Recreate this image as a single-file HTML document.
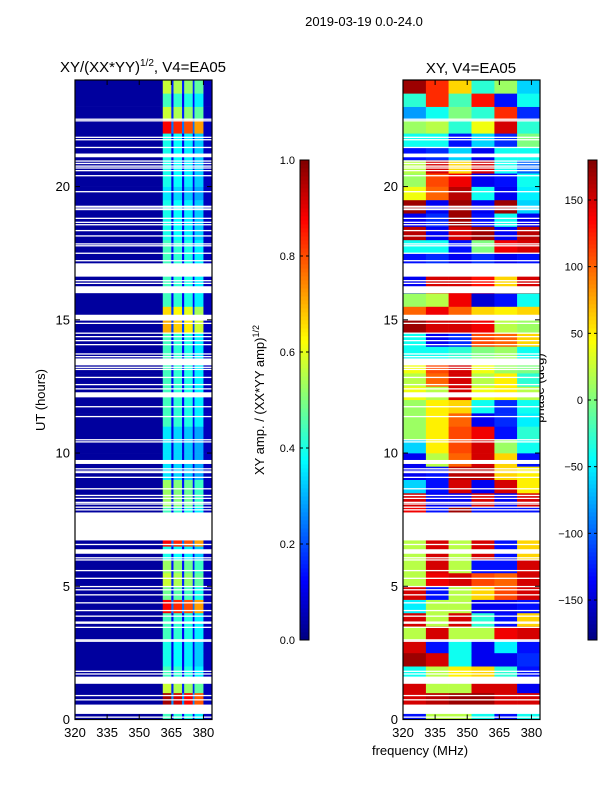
<!DOCTYPE html>
<html><head><meta charset="utf-8">
<style>
html,body{margin:0;padding:0;background:#fff;}
svg text{font-family:"Liberation Sans",sans-serif;fill:#000;}
</style></head>
<body>
<svg id="fig" width="600" height="800" viewBox="0 0 600 800" xmlns="http://www.w3.org/2000/svg">
<text x="364" y="26" font-size="13" text-anchor="middle">2019-03-19 0.0-24.0</text>
<text x="143" y="72" font-size="15" text-anchor="middle">XY/(XX*YY)<tspan font-size="10" dy="-6">1/2</tspan><tspan dy="6">, V4=EA05</tspan></text>
<text x="471" y="73" font-size="15" text-anchor="middle">XY, V4=EA05</text>
<text x="45" y="400" font-size="13" text-anchor="middle" transform="rotate(-90 45 400)">UT (hours)</text>
<text x="264" y="400" font-size="13" text-anchor="middle" transform="rotate(-90 264 400)">XY amp. / (XX*YY amp)<tspan font-size="9" dy="-5">1/2</tspan></text>
<text x="544" y="388" font-size="13" text-anchor="middle" transform="rotate(-90 544 388)">phase (deg)</text>
<text x="420" y="755" font-size="13" text-anchor="middle">frequency (MHz)</text>
<g id="left"></g>
<g id="right"></g>
<g id="cb1"></g>
<g id="cb2"></g>
</svg>
<script>
// ---- data ----
const hourTicks = [0,5,10,15,20];
const freqTicks = [320,335,350,365,380];
const ampTicks = ["0.0","0.2","0.4","0.6","0.8","1.0"];
const ampTickValues = [0,0.2,0.4,0.6,0.8,1.0];
const phaseTicks = [-150,-100,-50,0,50,100,150];
// amplitude spectral segments [fStart, fEnd, amp]
const ampSegments = [[320,361,0.03],[361,365,0.44],[365,366,0.12],[366,370,0.42],[370,371,0.12],[371,375,0.4],[375,375.8,0.12],[375.8,380,0.36],[380,384,0.06]];
// per half-hour row amplitude factor (0h -> 24h)
const ampRowFactor = [1.0,2.2,1.3,1.0,0.9,0.9,1.0,1.0,2.0,1.1,1.3,1.2,0.9,2.0,1.0,1.0,1.2,1.2,0.8,0.8,0.8,0.8,1.0,1.0,
                      1.0,1.0,1.0,1.0,1.0,1.6,1.5,1.0,1.0,1.0,1.0,1.0,0.9,0.9,0.9,0.8,0.9,0.9,0.9,0.9,2.0,1.3,1.0,1.3];
const ampRowFactorTop = [1.2,0.9];
// phase bins per half hour (6 frequency bins), 0h -> 24h
const phaseBins = [320,330.7,341.3,352,362.7,373.3,384];
const phaseRows = [
[-130,20,20,-40,-130,-40],[150,160,170,170,150,150],[150,20,20,150,150,-140],[-40,20,50,60,-30,-130],
[170,150,-40,-140,-140,-120],[150,-130,-40,-140,-50,-130],[20,150,20,20,140,150],[150,20,150,-30,-130,60],
[-50,20,20,-140,-140,-130],[150,-130,20,60,110,150],[20,140,150,110,100,150],[20,150,20,-130,-130,150],
[20,150,20,150,-130,60],[20,150,20,150,-130,60],[140,-130,170,-130,-130,-130],[140,-130,170,-130,-130,-130],
[150,-140,-140,150,-140,150],[-60,-130,150,-140,150,50],[-140,-130,160,160,60,50],[-140,20,100,150,60,-130],
[-60,50,110,150,10,-40],[10,50,110,140,-130,-30],[10,50,100,-140,-120,-50],[10,50,60,-40,-120,-40],
[40,20,150,40,50,20],[20,100,150,20,50,-30],[40,110,150,40,10,0],[-40,-40,-30,0,10,-40],
[-40,-140,-120,110,100,60],[170,150,150,140,20,10],[100,140,100,60,50,60],[10,20,140,-150,-130,-40],
[-140,150,150,130,60,150],[-140,150,150,130,60,150],[-130,-120,-140,-120,-140,-130],[-40,-40,-130,0,140,150],
[160,-140,150,170,-140,160],[-140,-120,170,-130,-40,-140],[170,-140,170,-140,170,-60],[40,100,160,-40,-140,-50],
[10,110,140,-140,-130,-40],[20,150,60,150,-40,-100],[-130,-120,-60,-140,-40,-40],[-40,-40,-130,-60,-120,0],
[10,20,-30,40,150,-30],[-80,-40,0,-30,120,-120],[-30,120,-20,130,-130,-40],[170,120,60,-30,10,-60]];
// thin gaps (hours) and wide gaps [start,end] (hours)
const thinGaps = [22.53,22.47,21.85,21.76,21.47,20.96,20.87,20.77,20.70,20.60,20.41,19.81,19.26,19.20,19.14,18.81,18.66,18.57,18.35,18.15,17.85,17.78,17.50,17.22,16.47,16.37,14.87,14.50,14.37,14.22,14.07,13.72,13.62,13.22,13.14,12.84,12.57,12.41,11.74,11.37,10.50,10.42,9.41,9.32,9.27,9.09,8.66,8.41,8.30,8.15,8.09,7.97,7.87,6.57,6.07,5.99,5.59,5.30,4.99,4.87,4.68,4.38,4.09,3.88,3.46,2.99,2.94,1.81,1.71,0.90,0.74,0.09];
const wideGaps = [[21.10,21.24],[16.62,17.12],[16.00,16.26],[14.97,15.19],[13.29,13.55],[12.09,12.28],[9.59,9.74],[6.72,7.77],[6.22,6.39],[3.59,3.68],[1.34,1.61],[0.21,0.56]];

// ---- helpers ----
const NS="http://www.w3.org/2000/svg";
function mk(tag,attrs,parent){const e=document.createElementNS(NS,tag);for(const k in attrs)e.setAttribute(k,attrs[k]);parent.appendChild(e);return e;}
function cl(v){return Math.max(0,Math.min(1,v));}
function jet(v){v=cl(v);const r=cl(1.5-Math.abs(4*v-3)),g=cl(1.5-Math.abs(4*v-2)),b=cl(1.5-Math.abs(4*v-1));
 return `rgb(${Math.round(r*255)},${Math.round(g*255)},${Math.round(b*255)})`;}
const Y0=719.5, Y1=80, H0=0, H1=24;
function yS(h){return Y0-(h-H0)/(H1-H0)*(Y0-Y1);}
function makeX(x0){return f=>x0+(f-320)*(137/64);}

function drawPanel(g,x0,fillFn){
 const xS=makeX(x0);
 fillFn(g,xS);
 for(const h of thinGaps){const r=mk('rect',{x:x0,y:yS(h)-0.6,width:137,height:1.3,fill:'#fff'},g);
  
  }
 for(const w of wideGaps){const r=mk('rect',{x:x0,y:yS(w[1]),width:137,height:yS(w[0])-yS(w[1]),fill:'#fff'},g);
  
  }
 const fr=mk('rect',{x:x0,y:Y1,width:137,height:Y0-Y1,fill:'none',stroke:'#000','stroke-width':1.2},g);
 
 
 for(const h of hourTicks){const y=yS(h);
  mk('line',{x1:x0,x2:x0+5,y1:y,y2:y,stroke:'#000'},g);mk('line',{x1:x0+137,x2:x0+132,y1:y,y2:y,stroke:'#000'},g);
  const t=mk('text',{x:x0-5,y:y+4.5,'font-size':13,'text-anchor':'end'},g);t.textContent=h;
  
  }
 for(const f of freqTicks){const x=xS(f);
  mk('line',{x1:x,x2:x,y1:Y0,y2:Y0-5,stroke:'#000'},g);mk('line',{x1:x,x2:x,y1:Y1,y2:Y1+5,stroke:'#000'},g);
  const t=mk('text',{x:x,y:737,'font-size':13,'text-anchor':'middle'},g);t.textContent=f;
  
  }
}

drawPanel(document.getElementById('left'),75,(g,xS)=>{
 const rows=ampRowFactor.length;
 for(let i=0;i<rows;i++){const hA=i*0.5,hB=hA+0.5;
  for(const s of ampSegments){
   const v=s[2]>0.1?s[2]*ampRowFactor[i]:s[2];
   const r=mk('rect',{x:xS(s[0]),y:yS(hB),width:xS(s[1])-xS(s[0])+0.3,height:yS(hA)-yS(hB)+0.3,fill:jet(v)},g);
   
   }}
});
drawPanel(document.getElementById('right'),403,(g,xS)=>{
 for(let i=0;i<phaseRows.length;i++){const hA=i*0.5,hB=hA+0.5;
  for(let j=0;j<6;j++){
   const r=mk('rect',{x:xS(phaseBins[j]),y:yS(hB),width:xS(phaseBins[j+1])-xS(phaseBins[j])+0.3,height:yS(hA)-yS(hB)+0.3,fill:jet((phaseRows[i][j]+180)/360)},g);
   
   }}
});

function colorbar(g,x0,vmin,vmax,ticks,labels){
 const top=160,bot=640,w=9,n=120;
 const yv=v=>bot-(v-vmin)/(vmax-vmin)*(bot-top);
 for(let k=0;k<n;k++){const v=vmin+(k+0.5)/n*(vmax-vmin);
  const y=bot-(k+1)/n*(bot-top);
  const r=mk('rect',{x:x0,y:y,width:w,height:(bot-top)/n+0.4,fill:jet((v-vmin)/(vmax-vmin))},g);
  
  }
 mk('rect',{x:x0,y:top,width:w,height:bot-top,fill:'none',stroke:'#000','stroke-width':1},g);
 ticks.forEach((v,i)=>{const y=yv(v);
  mk('line',{x1:x0,x2:x0+3,y1:y,y2:y,stroke:'#000'},g);mk('line',{x1:x0+w,x2:x0+w-3,y1:y,y2:y,stroke:'#000'},g);
  const t=mk('text',{x:x0-5,y:y+4,'font-size':11,'text-anchor':'end'},g);t.textContent=labels[i];
  
  });
}
colorbar(document.getElementById('cb1'),300,0,1,ampTickValues,ampTicks);
colorbar(document.getElementById('cb2'),588,-180,180,phaseTicks,phaseTicks.map(v=>v<0?'\u2212'+(-v):''+v));
</script>
</body></html>
